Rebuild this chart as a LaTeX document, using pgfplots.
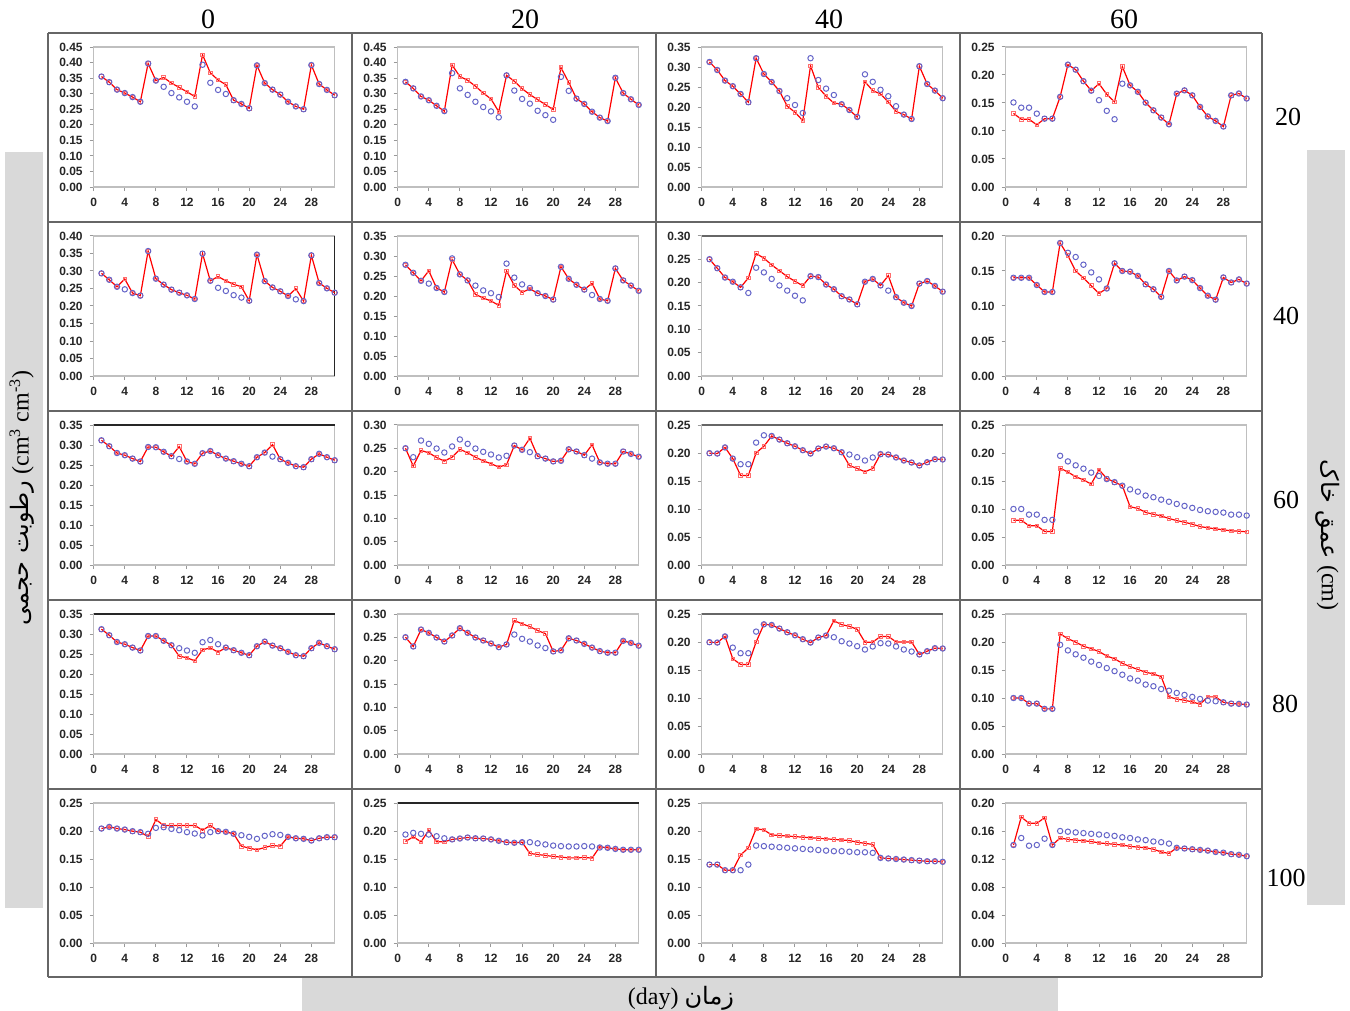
\documentclass[border=0pt]{standalone}
\usepackage{pgfplots}
\usepackage{pgfplotstable}
\pgfplotsset{compat=1.18}
\usepackage{fontspec}
\setmainfont{Liberation Sans}
\newfontfamily\serif{Liberation Serif}
\newfontfamily\arabicfont[Script=Arabic]{DejaVu Sans}
\TeXXeTstate=1
\definecolor{bluec}{RGB}{100,100,200}
\definecolor{redl}{RGB}{255,0,0}
\definecolor{redm}{RGB}{255,110,110}
\definecolor{boxg}{RGB}{217,217,217}

% row1
\pgfplotstableread{
d r b
1 .355 .355
2 .337 .337
3 .313 .313
4 .302 .302
5 .289 .289
6 .274 .274
7 .397 .397
8 .342 .342
9 .352 .322
10 .334 .302
11 .320 .288
12 .306 .274
13 .291 .259
14 .425 .393
15 .367 .335
16 .344 .312
17 .329 .299
18 .279 .279
19 .267 .267
20 .253 .253
21 .391 .391
22 .334 .334
23 .313 .313
24 .297 .297
25 .274 .274
26 .259 .259
27 .250 .250
28 .392 .392
29 .331 .331
30 .312 .312
31 .295 .295
}\TaA
\pgfplotstableread{
d r b
1 .338 .338
2 .317 .317
3 .291 .291
4 .279 .279
5 .261 .261
6 .244 .244
7 .392 .366
8 .355 .317
9 .343 .296
10 .324 .274
11 .302 .257
12 .283 .243
13 .242 .224
14 .359 .359
15 .340 .310
16 .316 .283
17 .297 .268
18 .281 .245
19 .265 .231
20 .249 .216
21 .384 .354
22 .336 .309
23 .284 .284
24 .267 .267
25 .242 .242
26 .223 .223
27 .212 .212
28 .351 .351
29 .302 .302
30 .282 .282
31 .264 .264
}\TaB
\pgfplotstableread{
d r b
1 .3125 .3125
2 .2925 .2925
3 .266 .266
4 .252 .252
5 .2325 .2325
6 .212 .212
7 .322 .322
8 .2825 .2825
9 .2625 .2625
10 .240 .240
11 .202 .222
12 .187 .205
13 .166 .185
14 .303 .322
15 .249 .2675
16 .227 .246
17 .210 .230
18 .207 .207
19 .1925 .1925
20 .175 .175
21 .263 .2817
22 .241 .263
23 .2325 .243
24 .2125 .227
25 .189 .202
26 .181 .181
27 .170 .170
28 .302 .302
29 .2575 .2575
30 .241 .241
31 .222 .222
}\TaC
\pgfplotstableread{
d r b
1 .1315 .151
2 .121 .1417
3 .121 .1417
4 .111 .131
5 .122 .122
6 .122 .122
7 .161 .161
8 .2185 .2185
9 .2095 .2095
10 .189 .189
11 .172 .172
12 .1845 .155
13 .1655 .136
14 .152 .121
15 .215 .1845
16 .1815 .1815
17 .170 .170
18 .1506 .1506
19 .137 .137
20 .124 .124
21 .112 .112
22 .1667 .1667
23 .1726 .1726
24 .1637 .1637
25 .143 .143
26 .126 .126
27 .118 .118
28 .108 .108
29 .1637 .1637
30 .167 .167
31 .158 .158
}\TaD
% row2
\pgfplotstableread{
d r b
1 .2933 .2933
2 .275 .275
3 .255 .255
4 .277 .2476
5 .237 .237
6 .2295 .2295
7 .357 .357
8 .278 .278
9 .261 .261
10 .2467 .2467
11 .238 .238
12 .2305 .2305
13 .220 .220
14 .3495 .3495
15 .272 .272
16 .284 .252
17 .272 .243
18 .262 .231
19 .255 .224
20 .215 .215
21 .3467 .3467
22 .271 .271
23 .253 .253
24 .242 .242
25 .2286 .2286
26 .2495 .219
27 .214 .214
28 .3448 .3448
29 .2657 .2657
30 .2505 .2505
31 .238 .238
}\TbA
\pgfplotstableread{
d r b
1 .278 .278
2 .258 .258
3 .238 .238
4 .263 .231
5 .220 .220
6 .210 .210
7 .291 .294
8 .254 .254
9 .239 .239
10 .204 .226
11 .195 .214
12 .1875 .207
13 .1767 .1975
14 .2625 .281
15 .2267 .246
16 .209 .229
17 .218 .220
18 .207 .207
19 .200 .200
20 .191 .191
21 .273 .273
22 .243 .243
23 .228 .228
24 .216 .216
25 .2317 .2025
26 .1925 .1925
27 .188 .188
28 .269 .269
29 .239 .239
30 .226 .226
31 .213 .213
}\TbB
\pgfplotstableread{
d r b
1 .2503 .2503
2 .231 .231
3 .211 .211
4 .202 .202
5 .190 .190
6 .210 .178
7 .2625 .232
8 .2525 .222
9 .238 .208
10 .2255 .194
11 .213 .183
12 .203 .172
13 .1935 .162
14 .214 .214
15 .212 .212
16 .196 .196
17 .186 .186
18 .171 .171
19 .164 .164
20 .1536 .1536
21 .202 .202
22 .208 .208
23 .194 .194
24 .215 .183
25 .169 .169
26 .157 .157
27 .150 .150
28 .198 .198
29 .2035 .2035
30 .193 .193
31 .1807 .1807
}\TbC
\pgfplotstableread{
d r b
1 .1403 .1403
2 .1403 .1403
3 .1403 .1403
4 .130 .130
5 .120 .120
6 .120 .120
7 .190 .190
8 .172 .176
9 .150 .170
10 .140 .159
11 .129 .148
12 .118 .138
13 .125 .125
14 .161 .161
15 .150 .150
16 .149 .149
17 .143 .143
18 .131 .131
19 .124 .124
20 .113 .113
21 .150 .150
22 .1365 .1365
23 .142 .142
24 .137 .137
25 .1256 .1256
26 .1147 .1147
27 .109 .109
28 .1408 .1408
29 .1336 .1336
30 .138 .138
31 .132 .132
}\TbD
% row3
\pgfplotstableread{
d r b
1 .3118 .3118
2 .297 .297
3 .280 .280
4 .2745 .2745
5 .266 .266
6 .2587 .2587
7 .295 .295
8 .2944 .2944
9 .283 .283
10 .272 .272
11 .296 .265
12 .2587 .2587
13 .253 .253
14 .2795 .2795
15 .285 .285
16 .2745 .2745
17 .266 .266
18 .2595 .2595
19 .253 .253
20 .247 .247
21 .2695 .2695
22 .281 .281
23 .301 .271
24 .2645 .2645
25 .2554 .2554
26 .247 .247
27 .2446 .2446
28 .2645 .2645
29 .278 .278
30 .2695 .2695
31 .262 .262
}\TcA
\pgfplotstableread{
d r b
1 .2503 .2503
2 .212 .231
3 .2454 .2667
4 .2404 .2596
5 .2304 .2496
6 .2226 .241
7 .231 .254
8 .248 .269
9 .2404 .2596
10 .231 .2496
11 .2233 .2425
12 .217 .2368
13 .210 .2304
14 .2148 .234
15 .256 .256
16 .2468 .2468
17 .2717 .2418
18 .2333 .2333
19 .228 .228
20 .222 .222
21 .2233 .2233
22 .248 .248
23 .2432 .2432
24 .2354 .2354
25 .2575 .228
26 .2198 .2198
27 .217 .217
28 .217 .217
29 .2432 .2432
30 .238 .238
31 .232 .232
}\TcB
\pgfplotstableread{
d r b
1 .1997 .1997
2 .199 .199
3 .210 .210
4 .190 .190
5 .160 .180
6 .160 .180
7 .2002 .2186
8 .212 .2316
9 .2304 .2304
10 .224 .224
11 .2174 .2174
12 .212 .212
13 .205 .205
14 .199 .199
15 .208 .208
16 .2115 .2115
17 .2085 .2085
18 .2014 .2014
19 .1777 .1973
20 .1724 .1925
21 .1665 .1866
22 .1724 .192
23 .198 .198
24 .1973 .1973
25 .192 .192
26 .1866 .1866
27 .183 .183
28 .1777 .1777
29 .1836 .1836
30 .189 .189
31 .1884 .1884
}\TcC
\pgfplotstableread{
d r b
1 .080 .100
2 .080 .100
3 .070 .090
4 .070 .090
5 .060 .0806
6 .060 .0806
7 .173 .195
8 .166 .185
9 .1576 .178
10 .152 .172
11 .1445 .165
12 .170 .159
13 .1546 .1534
14 .148 .148
15 .1416 .1416
16 .104 .135
17 .101 .131
18 .094 .124
19 .0906 .121
20 .0877 .1167
21 .083 .113
22 .0794 .109
23 .0764 .1055
24 .0729 .102
25 .0687 .0983
26 .0664 .096
27 .0646 .0948
28 .0628 .0936
29 .061 .090
30 .0604 .090
31 .0592 .0883
}\TcD
% row4
\pgfplotstableread{
d r b
1 .312 .312
2 .297 .297
3 .280 .280
4 .2745 .2745
5 .266 .266
6 .2587 .2587
7 .295 .295
8 .295 .295
9 .283 .283
10 .272 .272
11 .2446 .2645
12 .2405 .2587
13 .233 .253
14 .2604 .2795
15 .2653 .285
16 .2546 .2745
17 .266 .266
18 .2595 .2595
19 .253 .253
20 .247 .247
21 .2695 .2695
22 .281 .281
23 .271 .271
24 .2645 .2645
25 .2554 .2554
26 .247 .247
27 .2446 .2446
28 .2645 .2645
29 .278 .278
30 .2695 .2695
31 .262 .262
}\TdA
\pgfplotstableread{
d r b
1 .2503 .2503
2 .2304 .2304
3 .2667 .2667
4 .2596 .2596
5 .2496 .2496
6 .241 .241
7 .254 .254
8 .2696 .2696
9 .2596 .2596
10 .2496 .2496
11 .2432 .2432
12 .2368 .2368
13 .229 .229
14 .2347 .2347
15 .286 .256
16 .279 .2468
17 .273 .241
18 .2646 .2326
19 .258 .227
20 .2198 .2198
21 .222 .222
22 .248 .248
23 .2432 .2432
24 .236 .236
25 .228 .228
26 .2205 .2205
27 .217 .217
28 .217 .217
29 .2425 .2425
30 .238 .238
31 .232 .232
}\TdB
\pgfplotstableread{
d r b
1 .1997 .1997
2 .199 .199
3 .210 .210
4 .170 .190
5 .160 .180
6 .160 .180
7 .200 .2186
8 .2316 .2316
9 .2304 .2304
10 .224 .224
11 .2174 .2174
12 .212 .212
13 .205 .205
14 .199 .199
15 .208 .208
16 .2115 .2115
17 .238 .2085
18 .231 .2014
19 .228 .1973
20 .2227 .1925
21 .1997 .1866
22 .1997 .192
23 .210 .198
24 .210 .1973
25 .2002 .192
26 .200 .1866
27 .200 .183
28 .1777 .1777
29 .1836 .1836
30 .189 .189
31 .1884 .1884
}\TdC
\pgfplotstableread{
d r b
1 .100 .100
2 .100 .100
3 .090 .090
4 .090 .090
5 .0806 .0806
6 .0806 .0806
7 .2145 .195
8 .206 .185
9 .1997 .178
10 .1925 .172
11 .188 .165
12 .183 .159
13 .175 .1534
14 .170 .148
15 .162 .1416
16 .156 .135
17 .151 .131
18 .146 .124
19 .143 .121
20 .138 .116
21 .102 .113
22 .098 .109
23 .096 .1055
24 .093 .102
25 .089 .0983
26 .102 .0954
27 .102 .0942
28 .0924 .0924
29 .090 .090
30 .0895 .0895
31 .0883 .0883
}\TdD
% row5
\pgfplotstableread{
d r b
1 .2044 .2044
2 .2073 .2073
3 .2044 .2044
4 .2026 .2026
5 .1997 .1997
6 .198 .198
7 .190 .195
8 .2204 .2056
9 .210 .2068
10 .210 .2038
11 .210 .2014
12 .210 .198
13 .210 .1955
14 .2014 .192
15 .210 .198
16 .1997 .1997
17 .1985 .1985
18 .195 .195
19 .173 .1925
20 .1694 .1896
21 .1665 .186
22 .1706 .1914
23 .174 .1943
24 .173 .193
25 .1896 .1896
26 .187 .187
27 .186 .186
28 .183 .183
29 .187 .187
30 .189 .189
31 .189 .189
}\TeA
\pgfplotstableread{
d r b
1 .1813 .1937
2 .1896 .1967
3 .1807 .195
4 .2014 .1937
5 .1807 .1907
6 .1807 .187
7 .185 .185
8 .1866 .1866
9 .1884 .1884
10 .187 .187
11 .1866 .1866
12 .185 .185
13 .1825 .1825
14 .180 .180
15 .179 .179
16 .180 .180
17 .160 .180
18 .158 .178
19 .1564 .176
20 .1546 .174
21 .1534 .173
22 .152 .1724
23 .152 .1724
24 .1528 .173
25 .1516 .1724
26 .1718 .1706
27 .170 .170
28 .168 .168
29 .1665 .1665
30 .1665 .1665
31 .1665 .1665
}\TeB
\pgfplotstableread{
d r b
1 .140 .140
2 .140 .140
3 .130 .130
4 .130 .130
5 .157 .130
6 .170 .140
7 .204 .174
8 .202 .173
9 .193 .172
10 .192 .171
11 .191 .170
12 .190 .169
13 .189 .168
14 .188 .167
15 .187 .166
16 .186 .165
17 .185 .164
18 .184 .164
19 .183 .163
20 .180 .162
21 .178 .162
22 .176 .161
23 .152 .152
24 .151 .151
25 .150 .150
26 .149 .149
27 .148 .148
28 .147 .147
29 .146 .146
30 .146 .146
31 .145 .145
}\TeC
\pgfplotstableread{
d r b
1 .140 .140
2 .180 .150
3 .171 .139
4 .171 .140
5 .179 .149
6 .140 .140
7 .150 .160
8 .148 .159
9 .147 .158
10 .146 .157
11 .145 .156
12 .143 .155
13 .142 .154
14 .141 .153
15 .140 .151
16 .138 .150
17 .137 .148
18 .136 .147
19 .134 .145
20 .130 .144
21 .128 .142
22 .136 .136
23 .135 .135
24 .134 .134
25 .133 .133
26 .132 .132
27 .130 .130
28 .129 .129
29 .127 .127
30 .126 .126
31 .124 .124
}\TeD

\def\tA{0,0.05,0.1,0.15,0.2,0.25}
\def\tB{0,0.05,0.1,0.15,0.2,0.25,0.3}
\def\tC{0,0.05,0.1,0.15,0.2,0.25,0.3,0.35}
\def\tD{0,0.05,0.1,0.15,0.2,0.25,0.3,0.35,0.4}
\def\tE{0,0.05,0.1,0.15,0.2,0.25,0.3,0.35,0.4,0.45}
\def\tF{0,0.04,0.08,0.12,0.16,0.2}
\def\tG{0,0.05,0.1,0.15,0.2}

\pgfplotsset{panelstyle/.style={
  scale only axis, width=120.5pt, height=70pt, anchor=south west,
  xmin=0, xmax=31, ymin=0,
  xtick={0,4,...,28},
  tick align=outside, xtick pos=bottom, ytick pos=left,
  major tick length=2pt,
  tick style={draw=black!40, line width=0.5pt},
  axis line style={draw=black!25, line width=0.6pt},
  ticklabel style={font=\bfseries\fontsize{6}{7}\selectfont, text=black!85},
  /pgf/number format/assume math mode=true,
  yticklabel style={/pgf/number format/.cd, fixed, fixed zerofill, precision=2},
  scaled y ticks=false,
  clip=false,
}}

\newcommand{\topdark}{\draw[black!85, line width=0.6pt] (rel axis cs:0,1) -- (rel axis cs:1,1);}
\newcommand{\topmid}{\draw[black!60, line width=0.6pt] (rel axis cs:0,1) -- (rel axis cs:1,1);}
\newcommand{\rightdark}{\draw[black!85, line width=0.6pt] (rel axis cs:1,0) -- (rel axis cs:1,1);}

\newcommand{\panel}[6]{%
  \pgfmathsetmacro\px{(93.7+304*#1)*0.5}%
  \pgfmathsetmacro\py{-(187+189*#2)*0.5}%
  \begin{axis}[panelstyle, at={(\px pt,\py pt)}, ymax=#3, ytick={#4}]
    #6
    \addplot[color=redl, line width=0.6pt, mark=square, mark size=0.9pt,
      mark options={draw=redm, solid, line width=0.4pt, fill=none}] table[x=d,y=r]{#5};
    \addplot[only marks, mark=o, mark size=1.35pt,
      mark options={draw=bluec, line width=0.5pt}] table[x=d,y=b]{#5};
  \end{axis}}

\begin{document}
\begin{tikzpicture}
\begin{scope}[x=0.5pt,y=-0.5pt]
  \useasboundingbox (0,0) rectangle (1350,1011);
  \fill[boxg] (5,152) rectangle (43,908);
  \fill[boxg] (1307,150) rectangle (1345,905);
  \fill[boxg] (302,978) rectangle (1058,1011);
  \foreach \xx in {48,352,656,960,1262} \draw[black!60, line width=0.6pt] (\xx,33) -- (\xx,977);
  \foreach \yy in {33,222,411,600,789,977} \draw[black!60, line width=0.6pt] (48,\yy) -- (1262,\yy);
  \node[font=\serif\fontsize{14}{14}\selectfont] at (208,19) {0};
  \node[font=\serif\fontsize{14}{14}\selectfont] at (525,19) {20};
  \node[font=\serif\fontsize{14}{14}\selectfont] at (829,19) {40};
  \node[font=\serif\fontsize{14}{14}\selectfont] at (1124,19) {60};
  \node[font=\serif\fontsize{13}{13}\selectfont] at (1288,117) {20};
  \node[font=\serif\fontsize{13}{13}\selectfont] at (1286,316) {40};
  \node[font=\serif\fontsize{13}{13}\selectfont] at (1286,500) {60};
  \node[font=\serif\fontsize{13}{13}\selectfont] at (1285,704) {80};
  \node[font=\serif\fontsize{13}{13}\selectfont] at (1286,878) {100};
  \node[rotate=90, font=\serif\fontsize{12}{12}\selectfont] at (22,498)
    {{\arabicfont\beginR رطوبت حجمی\endR}\ (cm\textsuperscript{3} cm\textsuperscript{-3})};
  \node[rotate=-90, font=\serif\fontsize{12}{12}\selectfont] at (1328,535)
    {{\arabicfont\beginR عمق خاک\endR}\ (cm)};
  \node[font=\serif\fontsize{12}{12}\selectfont] at (681,998)
    {(day)\ {\arabicfont\beginR زمان\endR}};
\end{scope}
\panel{0}{0}{0.45}{\tE}{\TaA}{}
\panel{1}{0}{0.45}{\tE}{\TaB}{}
\panel{2}{0}{0.35}{\tC}{\TaC}{}
\panel{3}{0}{0.25}{\tA}{\TaD}{}
\panel{0}{1}{0.40}{\tD}{\TbA}{\rightdark}
\panel{1}{1}{0.35}{\tC}{\TbB}{}
\panel{2}{1}{0.30}{\tB}{\TbC}{\topmid}
\panel{3}{1}{0.20}{\tG}{\TbD}{}
\panel{0}{2}{0.35}{\tC}{\TcA}{\topdark}
\panel{1}{2}{0.30}{\tB}{\TcB}{}
\panel{2}{2}{0.25}{\tA}{\TcC}{\topmid}
\panel{3}{2}{0.25}{\tA}{\TcD}{}
\panel{0}{3}{0.35}{\tC}{\TdA}{\topdark}
\panel{1}{3}{0.30}{\tB}{\TdB}{}
\panel{2}{3}{0.25}{\tA}{\TdC}{\topmid}
\panel{3}{3}{0.25}{\tA}{\TdD}{}
\panel{0}{4}{0.25}{\tA}{\TeA}{}
\panel{1}{4}{0.25}{\tA}{\TeB}{\topdark}
\panel{2}{4}{0.25}{\tA}{\TeC}{}
\panel{3}{4}{0.20}{\tF}{\TeD}{}
\end{tikzpicture}
\end{document}
